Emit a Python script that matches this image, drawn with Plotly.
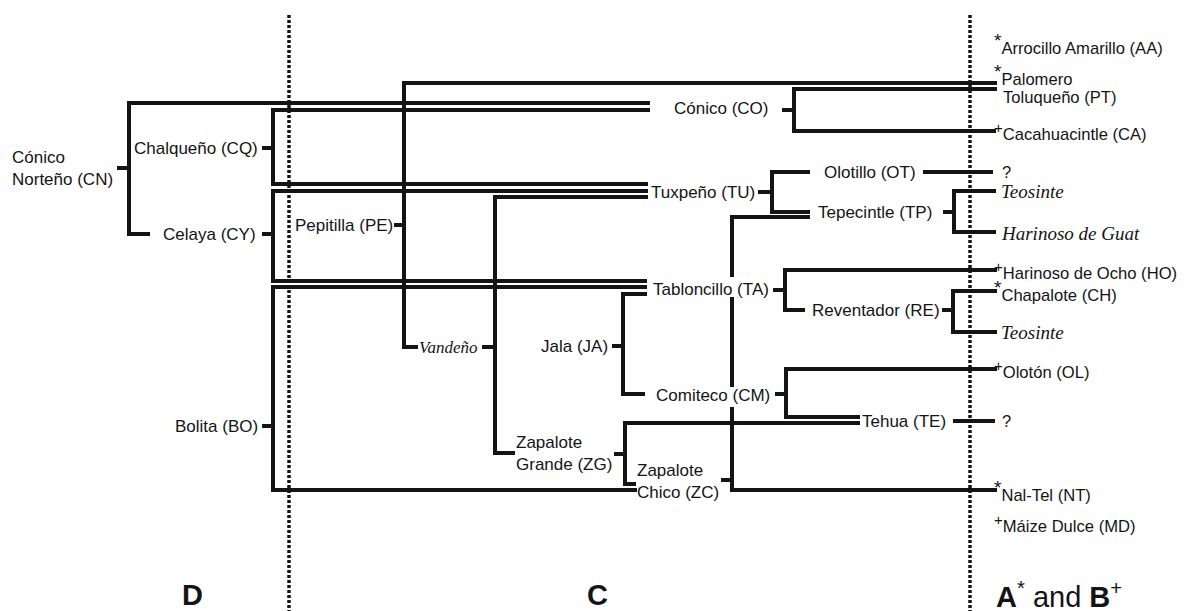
import plotly.graph_objects as go

W, H = 1186, 611
PAGE_PAD = 8  # default body margin of the html page

# ── tree brackets (pixel layout of the drawing, y grows downward) ─────
NODE = ["CN", "CQ", "CY", "BO", "PE", "VA", "JA", "ZG", "CO", "TU", "TP", "ZC", "TA", "RE", "CM"]
NODE_X = [129, 273, 273, 273, 404, 495, 623, 625, 794, 772, 954, 732, 785, 953, 786]
TOP_Y = [103, 110, 191, 287, 83, 197, 294, 423, 89, 172, 191, 217, 270, 291, 369]
BOT_Y = [234, 184, 281, 490, 347, 453, 394, 484, 131, 212, 232, 490, 310, 332, 417]
TICK_Y = [168, 148, 234, 426, 225, 347, 346, 454, 110, 192, 212, 480, 290, 310, 394]
TICK_X0 = [117, 262, 262, 262, 394, 482, 612, 614, 782, 758, 943, 721, 773, 942, 775]
TOP_END = [650, 650, 648, 647, 997, 648, 647, 860, 997, 810, 996, 810, 997, 997, 997]
BOT_END = [150, 648, 647, 637, 418, 515, 645, 636, 996, 810, 996, 997, 805, 997, 860]

# breaks in the ZC stem where labels sit on it
ZC_GAPS = [(277, 297), (387, 407)]

# loose leaf stubs: (x0, x1, y)
STUBS = [(923, 993, 172), (953, 995, 421)]

# section dividers
DIVIDER_X = [289, 970]

STAR = '<sup><span style="font-size:19px">*</span></sup>'
PLUS = '<sup><span style="font-size:15px">+</span></sup>'

# tree labels, anchored on their left edge: text, x, y
LEFT_LABELS = [
    ("Cónico<br>Norteño (CN)", 11, 168),
    ("Zapalote<br>Grande (ZG)", 515, 453),
    ("Zapalote<br>Chico (ZC)", 636, 481),
    ("Tuxpeño (TU)", 650, 192),
    ("Tabloncillo (TA)", 652, 289),
    ("Olotillo (OT)", 823, 172),
    ("Tepecintle (TP)", 817, 212),
    ("Reventador (RE)", 811, 310),
    ("Tehua (TE)", 861, 421),
]

# leaf column on the far right: text, x, y
LEAF_LABELS = [
    (STAR + "Arrocillo Amarillo (AA)", 993, 44),
    (STAR + "Palomero", 993, 75),
    ("Toluqueño (PT)", 1002, 97),
    (PLUS + "Cacahuacintle (CA)", 993, 131),
    ("?", 1001, 172),
    (PLUS + "Harinoso de Ocho (HO)", 993, 270),
    (STAR + "Chapalote (CH)", 993, 291),
    (PLUS + "Olotón (OL)", 993, 369),
    ("?", 1001, 421),
    (STAR + "Nal-Tel (NT)", 993, 491),
    (PLUS + "Máize Dulce (MD)", 993, 523),
]

# right-anchored labels: text, x, y
RIGHT_LABELS = [
    ("Chalqueño (CQ)", 259, 148),
    ("Celaya (CY)", 257, 234),
    ("Bolita (BO)", 259, 426),
    ("Pepitilla (PE)", 394, 225),
    ("Jala (JA)", 609, 346),
    ("Cónico (CO)", 769, 108),
    ("Comiteco (CM)", 771, 395),
]

# italic serif labels: text, x, y, size
ITALIC_LABELS = [
    ("Vandeño", 418, 347, 17),
    ("Teosinte", 1000, 191, 19),
    ("Harinoso de Guat", 1000, 233, 19),
    ("Teosinte", 1000, 332, 19),
]

SECTIONS = [("<b>D</b>", 192, "center"), ("<b>C</b>", 597, "center"),
            ("<b>A</b><sup>*</sup> and <b>B</b><sup>+</sup>", 995, "left")]

INK = "#141414"
SANS = "Liberation Sans, Arial, sans-serif"
SERIF = "Liberation Serif, Times New Roman, serif"

xs, ys = [], []


def seg(pts):
    for px_, py_ in pts:
        xs.append(px_)
        ys.append(py_)
    xs.append(None)
    ys.append(None)


for i, n in enumerate(NODE):
    bx = NODE_X[i]
    seg([(TICK_X0[i], TICK_Y[i]), (bx, TICK_Y[i])])
    if n == "ZC":
        seg([(TOP_END[i], TOP_Y[i]), (bx, TOP_Y[i]), (bx, ZC_GAPS[0][0])])
        seg([(bx, ZC_GAPS[0][1]), (bx, ZC_GAPS[1][0])])
        seg([(bx, ZC_GAPS[1][1]), (bx, BOT_Y[i]), (BOT_END[i], BOT_Y[i])])
    else:
        seg([(TOP_END[i], TOP_Y[i]), (bx, TOP_Y[i]), (bx, BOT_Y[i]), (BOT_END[i], BOT_Y[i])])

for x0, x1, y in STUBS:
    seg([(x0, y), (x1, y)])

fig = go.Figure()

for dx in DIVIDER_X:
    fig.add_trace(go.Scatter(x=[dx, dx], y=[15, H], mode="lines",
                             line=dict(color=INK, width=3.5, dash="3px,2px"),
                             hoverinfo="skip", showlegend=False))

fig.add_trace(go.Scatter(x=xs, y=ys, mode="lines",
                         line=dict(color=INK, width=4),
                         hoverinfo="skip", showlegend=False))

ann = []
for t, x, y in LEFT_LABELS:
    ann.append(dict(text=t, x=x, y=y, xanchor="left", yanchor="middle", align="left",
                    font=dict(family=SANS, size=17, color=INK)))
for t, x, y in LEAF_LABELS:
    ann.append(dict(text=t, x=x, y=y, xanchor="left", yanchor="middle", align="left",
                    font=dict(family=SANS, size=16.6, color=INK)))
for t, x, y in RIGHT_LABELS:
    ann.append(dict(text=t, x=x, y=y, xanchor="right", yanchor="middle", align="right",
                    font=dict(family=SANS, size=17, color=INK)))
for t, x, y, s in ITALIC_LABELS:
    ann.append(dict(text="<i>" + t + "</i>", x=x, y=y, xanchor="left", yanchor="middle",
                    font=dict(family=SERIF, size=s, color=INK)))
for t, x, a in SECTIONS:
    ann.append(dict(text=t, x=x, y=595, xanchor=a, yanchor="middle",
                    font=dict(family=SANS, size=29, color=INK)))
for a in ann:
    a.update(xref="x", yref="y", showarrow=False, borderpad=0)

# the page sits PAGE_PAD px in from the window corner, so the axes start there
fig.update_layout(
    width=W - PAGE_PAD, height=H - PAGE_PAD, autosize=False,
    margin=dict(l=0, r=0, t=0, b=0),
    paper_bgcolor="white", plot_bgcolor="white",
    xaxis=dict(range=[PAGE_PAD, W], visible=False, fixedrange=True),
    yaxis=dict(range=[H, PAGE_PAD], visible=False, fixedrange=True),
    annotations=ann,
)

fig.write_html("out.html")
